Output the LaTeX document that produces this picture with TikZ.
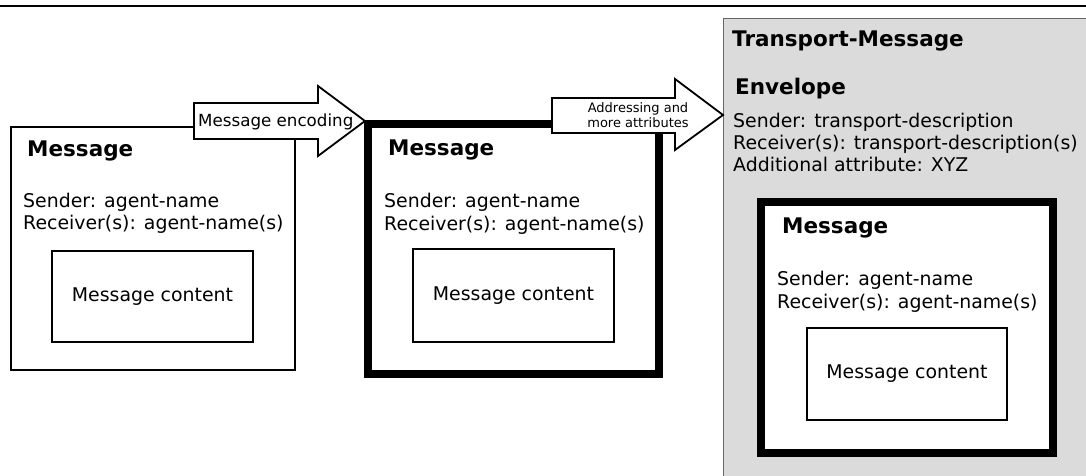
\documentclass[tikz,border=0pt]{standalone}
\usepackage{fontspec}
\setmainfont{DejaVu Sans}
\begin{document}
\begin{tikzpicture}[x=1pt,y=-1pt,
  txt/.style={inner sep=0pt, anchor=base west, font=\fontsize{18.9}{19}\selectfont},
  ttl/.style={inner sep=0pt, anchor=base west, font=\fontsize{21.5}{22}\selectfont\bfseries},
  thinbox/.style={draw=black, line width=1.2pt, fill=white, inner sep=0pt},
  thickbox/.style={draw=black, line width=8pt, fill=white, inner sep=0pt},
  contentbox/.style={thinbox, font=\fontsize{18.9}{19}\selectfont},
  blockarrow/.style={draw=black, line width=1.8pt, fill=white, line join=miter},
]
\clip (0,0) rectangle (1086,476);
\useasboundingbox (0,0) rectangle (1086,476);

% rule along the top
\draw[line width=2pt] (0,6) -- (1086,6);

% transport message container
\draw[draw=black!60, line width=1pt, fill=black!14] (723,19) rectangle (1100,490);

% plain message
\node[thinbox, minimum width=284pt, minimum height=243pt] (msgA) at (153,248.5) {};
\node[contentbox, minimum width=201pt, minimum height=91pt] (contA) at (152.5,296.5) {Message content};
\node[ttl] (titleA) at (27,156) {Message};
\node[txt] (sendA) at (23,207) {Sender: agent-name};
\node[txt] (recvA) at (23,229.5) {Receiver(s): agent-name(s)};

% encoding step
\draw[blockarrow] (194,103) -- (318,103) -- (318,86) -- (365,121) -- (318,156) -- (318,139) -- (194,139) -- cycle;
\node[inner sep=0pt, anchor=base west, font=\fontsize{16.7}{17}\selectfont] (encA) at (198,126) {Message encoding};

% encoded message
\node[thickbox, minimum width=291pt, minimum height=250pt] (msgB) at (513.5,249) {};
\node[contentbox, minimum width=201pt, minimum height=93pt] (contB) at (513.5,295.5) {Message content};
\node[ttl] (titleB) at (388,155) {Message};
\node[txt] (sendB) at (384,207.5) {Sender: agent-name};
\node[txt] (recvB) at (384,230) {Receiver(s): agent-name(s)};

% addressing step
\draw[blockarrow] (552,98) -- (675,98) -- (675,79) -- (723,115) -- (675,150) -- (675,133) -- (552,133) -- cycle;
\node[inner sep=0pt, align=center, font=\fontsize{13}{15}\selectfont] (addrB) at (638,115.5) {Addressing and\\more attributes};

% envelope contents
\node[ttl] (titleT) at (732,47) {Transport-Message};
\node[ttl] (titleE) at (735,95) {Envelope};
\node[txt] (sendE) at (733,127.5) {Sender: transport-description};
\node[txt] (recvE) at (733,149.5) {Receiver(s): transport-description(s)};
\node[txt] (attrE) at (733,171) {Additional attribute: XYZ};

% message inside the envelope
\node[thickbox, minimum width=292pt, minimum height=250.5pt] (msgC) at (907,327.25) {};
\node[contentbox, minimum width=200pt, minimum height=92pt] (contC) at (907,374) {Message content};
\node[ttl] (titleC) at (782,233) {Message};
\node[txt] (sendC) at (777,285.5) {Sender: agent-name};
\node[txt] (recvC) at (777,308.5) {Receiver(s): agent-name(s)};
\end{tikzpicture}
\end{document}
